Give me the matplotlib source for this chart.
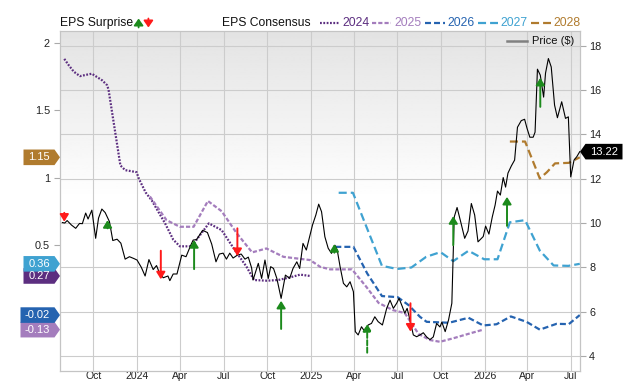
import numpy as np
import pandas as pd
import matplotlib
matplotlib.use("Agg")
import matplotlib.pyplot as plt
import matplotlib.dates as mdates
import matplotlib.transforms as mtransforms
from matplotlib.patches import Polygon, FancyArrowPatch
from matplotlib.lines import Line2D

plt.rcParams['font.family'] = ['Liberation Sans', 'DejaVu Sans']
plt.rcParams['lines.scale_dashes'] = False

# ---- EPS consensus by fiscal year ----
eps24_dates = ["2023-08-01", "2023-08-11", "2023-08-21", "2023-09-03", "2023-09-19", "2023-09-28",
               "2023-10-05", "2023-10-20", "2023-10-30", "2023-11-02", "2023-11-27", "2023-12-07",
               "2023-12-31", "2024-01-05", "2024-01-19", "2024-02-01", "2024-02-29", "2024-03-17",
               "2024-03-31", "2024-04-25", "2024-05-16", "2024-05-31", "2024-06-27", "2024-07-25",
               "2024-08-18", "2024-09-03", "2024-09-30", "2024-10-24", "2024-11-18", "2024-12-09",
               "2024-12-30"]
eps24_vals = [1.88, 1.83, 1.785, 1.752, 1.764, 1.77, 1.754, 1.72, 1.685, 1.653, 1.09, 1.055,
              1.04, 0.99, 0.89, 0.83, 0.66, 0.54, 0.49, 0.49, 0.59, 0.66, 0.61, 0.46,
              0.34, 0.24, 0.235, 0.24, 0.26, 0.28, 0.27]

eps25_dates = ["2024-01-28", "2024-03-03", "2024-03-31", "2024-04-29", "2024-05-29", "2024-06-27",
               "2024-07-28", "2024-08-30", "2024-09-29", "2024-11-04", "2024-12-02", "2024-12-30",
               "2025-01-20", "2025-02-10", "2025-03-28", "2025-04-27", "2025-05-23", "2025-06-22",
               "2025-07-17", "2025-08-15", "2025-09-08", "2025-09-29", "2025-10-26", "2025-12-01",
               "2025-12-29"]
eps25_vals = [0.86, 0.684, 0.635, 0.635, 0.826, 0.75, 0.59, 0.445, 0.474, 0.412, 0.40, 0.388,
              0.338, 0.319, 0.319, 0.19, 0.07, 0.017, -0.005, -0.16, -0.205, -0.218, -0.193,
              -0.156, -0.128]

eps26_dates = ["2025-02-21", "2025-03-31", "2025-04-29", "2025-05-30", "2025-07-02", "2025-07-25",
               "2025-08-18", "2025-09-01", "2025-10-18", "2025-11-28", "2025-12-29", "2026-01-26",
               "2026-02-25", "2026-03-30", "2026-04-27", "2026-06-01", "2026-06-27", "2026-07-20"]
eps26_vals = [0.486, 0.486, 0.289, 0.121, 0.113, 0.054, -0.033, -0.07, -0.077, -0.04, -0.097,
              -0.088, -0.03, -0.07, -0.128, -0.085, -0.087, -0.02]

eps27_dates = ["2025-02-28", "2025-03-30", "2025-05-30", "2025-07-01", "2025-07-31", "2025-08-31",
               "2025-09-30", "2025-10-27", "2025-11-28", "2025-12-31", "2026-01-28", "2026-02-23",
               "2026-03-27", "2026-04-27", "2026-05-26", "2026-06-26", "2026-07-20"]
eps27_vals = [0.887, 0.887, 0.345, 0.322, 0.333, 0.412, 0.447, 0.38, 0.457, 0.394, 0.394, 0.668,
              0.684, 0.458, 0.348, 0.345, 0.36]

eps28_dates = ["2026-02-23", "2026-03-27", "2026-04-27", "2026-05-12", "2026-05-29", "2026-06-27",
               "2026-07-20"]
eps28_vals = [1.267, 1.267, 0.993, 1.04, 1.105, 1.109, 1.15]

# ---- share price ----
price_dates = [
    "2023-07-28", "2023-08-02", "2023-08-07", "2023-08-16", "2023-08-25", "2023-09-02", "2023-09-08",
    "2023-09-15", "2023-09-20", "2023-09-28", "2023-10-06", "2023-10-12", "2023-10-19", "2023-10-26",
    "2023-11-04", "2023-11-11", "2023-11-20", "2023-11-28", "2023-12-07", "2023-12-16", "2023-12-25",
    "2024-01-01", "2024-01-10", "2024-01-18", "2024-01-26", "2024-02-04", "2024-02-11", "2024-02-16",
    "2024-02-25", "2024-03-06", "2024-03-10", "2024-03-17", "2024-03-25", "2024-04-04", "2024-04-13",
    "2024-04-23", "2024-04-28", "2024-05-05", "2024-05-18", "2024-05-28", "2024-06-06", "2024-06-15",
    "2024-06-22", "2024-06-30", "2024-07-07", "2024-07-14", "2024-07-21", "2024-07-30", "2024-08-07",
    "2024-08-15", "2024-08-22", "2024-08-29", "2024-09-01", "2024-09-12", "2024-09-19", "2024-09-26",
    "2024-10-03", "2024-10-08", "2024-10-14", "2024-10-21", "2024-10-30", "2024-11-08", "2024-11-17",
    "2024-11-24", "2024-12-02", "2024-12-08", "2024-12-15", "2024-12-22", "2024-12-29", "2025-01-04",
    "2025-01-11", "2025-01-17", "2025-01-23", "2025-01-30", "2025-02-06", "2025-02-13", "2025-02-20",
    "2025-02-25", "2025-03-03", "2025-03-10", "2025-03-17", "2025-03-24", "2025-03-31", "2025-04-04",
    "2025-04-10", "2025-04-17", "2025-04-24", "2025-05-01", "2025-05-08", "2025-05-15", "2025-05-22",
    "2025-05-31", "2025-06-09", "2025-06-16", "2025-06-23", "2025-06-30", "2025-07-05", "2025-07-12",
    "2025-07-17", "2025-07-22", "2025-07-28", "2025-08-04", "2025-08-11", "2025-08-18", "2025-08-25",
    "2025-09-01", "2025-09-08", "2025-09-15", "2025-09-22", "2025-09-29", "2025-10-03", "2025-10-10",
    "2025-10-17", "2025-10-24", "2025-10-29", "2025-11-04", "2025-11-12", "2025-11-20", "2025-11-27",
    "2025-12-04", "2025-12-11", "2025-12-18", "2025-12-29", "2026-01-03", "2026-01-10", "2026-01-17",
    "2026-01-23", "2026-01-28", "2026-02-03", "2026-02-09", "2026-02-14", "2026-02-19", "2026-02-26",
    "2026-03-05", "2026-03-11", "2026-03-19", "2026-03-26", "2026-03-31", "2026-04-06", "2026-04-13",
    "2026-04-17", "2026-04-22", "2026-04-28", "2026-05-05", "2026-05-09", "2026-05-15", "2026-05-21",
    "2026-05-28", "2026-06-03", "2026-06-12", "2026-06-20", "2026-06-26", "2026-07-01", "2026-07-08",
    "2026-07-14", "2026-07-20"]
price_vals = [
    10.02, 10.00, 10.11, 9.91, 9.76, 9.98, 9.97,
    10.45, 10.18, 10.58, 9.31, 10.22, 10.63, 10.47,
    10.06, 9.21, 9.27, 9.09, 8.37, 8.48, 8.40,
    8.33, 8.00, 7.61, 8.35, 7.90, 8.08, 7.81,
    7.53, 7.61, 7.40, 7.70, 7.70, 8.55, 8.48,
    9.00, 9.23, 9.25, 9.67, 9.57, 9.05, 8.25,
    8.60, 8.64, 8.37, 8.64, 8.42, 8.55, 8.60,
    8.37, 8.46, 7.97, 7.43, 8.18, 7.50, 8.33,
    7.50, 8.03, 7.95, 7.50, 6.60, 7.65, 7.50,
    7.95, 8.25, 7.95, 9.08, 8.78, 9.38, 9.91,
    10.36, 10.85, 10.51, 9.38, 8.86, 8.63, 9.00,
    8.78, 8.03, 7.28, 7.12, 7.35, 6.90, 5.10,
    4.95, 5.32, 5.10, 5.40, 5.47, 5.77, 5.55,
    5.40, 6.15, 6.52, 6.15, 6.38, 6.60, 6.22,
    5.93, 6.15, 5.62, 4.95, 4.87, 4.95, 5.05,
    4.86, 4.74, 4.86, 5.47, 5.31, 5.53, 5.10,
    5.62, 6.38, 10.27, 10.70, 10.02, 9.31, 9.64,
    10.88, 10.36, 9.15, 9.39, 9.86, 9.50, 10.27,
    10.81, 11.44, 11.26, 12.05, 11.62, 12.25, 12.57,
    12.84, 14.32, 14.62, 14.68, 14.28, 13.87, 13.87,
    14.10, 16.94, 16.67, 15.68, 16.76, 17.42, 17.04,
    15.32, 14.75, 15.47, 14.72, 14.79, 12.08, 12.84,
    13.00, 13.22]

# ---- EPS surprise markers (drawn on the price scale) ----
surprise_dates = ["2023-08-01", "2023-10-31", "2024-02-20", "2024-04-30", "2024-07-30", "2024-10-30",
                  "2025-02-19", "2025-04-29", "2025-07-29", "2025-10-27", "2026-02-17", "2026-04-28"]
surprise_tail = [10.46, 9.76, 8.75, 7.92, 9.76, 5.22, 8.66, 4.15, 6.38, 9.00, 9.87, 15.24]
surprise_tip = [10.06, 10.13, 7.46, 9.23, 8.51, 6.49, 9.05, 5.44, 5.10, 10.31, 11.18, 16.55]
surprise_dashed = [False, False, False, False, False, False, False, True, False, False, False, False]

years = ["2024", "2025", "2026", "2027", "2028"]
colors = ["#5c2e80", "#a47dbd", "#2563b0", "#3fa2d1", "#b07b2e"]
styles = [(0, (1.3, 1.1)), (0, (3.0, 1.5)), (0, (4.3, 2.2)), (0, (5.8, 2.9)), (0, (5.8, 2.9))]
series = [(eps24_dates, eps24_vals), (eps25_dates, eps25_vals), (eps26_dates, eps26_vals),
          (eps27_dates, eps27_vals), (eps28_dates, eps28_vals)]

W, H = 640, 382
fig = plt.figure(figsize=(W / 100, H / 100), dpi=100)
ax = fig.add_axes([60 / W, (H - 370.5) / H, 520 / W, (370.5 - 30.7) / H])
ax2 = ax.twinx()

ax.set_xlim(pd.Timestamp("2023-07-23"), pd.Timestamp("2026-07-20 12:00"))
ax.set_ylim(-0.431, 2.089)
ax2.set_ylim(3.346, 18.676)

# background gradient
frac = np.linspace(0, 1, 200)  # 0 = bottom, 1 = top
grad = (1 - 0.11 * np.clip((frac - 0.5) / 0.5, 0, 1))[:, None]
ax.imshow(grad, extent=[0, 1, 0, 1], transform=ax.transAxes, cmap="gray", vmin=0, vmax=1,
          aspect="auto", origin="lower", zorder=0)

gridc = "#cccccc"
ax.set_axisbelow(True)
ax.xaxis.set_major_locator(mdates.MonthLocator(bymonth=[1, 4, 7, 10]))
ax.xaxis.set_major_formatter(plt.FuncFormatter(
    lambda v, p: mdates.num2date(v).strftime("%Y" if mdates.num2date(v).month == 1 else "%b")))
ax.grid(axis="x", color=gridc, lw=0.8)
right_ticks = np.arange(4, 19, 2)
grid_tf = mtransforms.blended_transform_factory(ax.transAxes, ax2.transData)
for v in right_ticks:
    ax.plot([0, 1], [v, v], transform=grid_tf, color=gridc, lw=0.8, zorder=0.6)

# consensus lines
for (d, v), c, ls in zip(series, colors, styles):
    ax.plot(pd.to_datetime(d), v, color=c, lw=1.6, linestyle=ls, zorder=3)

# price line
ax2.plot(pd.to_datetime(price_dates), price_vals, color="black", lw=0.8, zorder=3)

# surprise arrows
for d, t0, t1, dash in zip(pd.to_datetime(surprise_dates), surprise_tail, surprise_tip, surprise_dashed):
    c = "#1c8a1c" if t1 > t0 else "#ff1a1a"
    ax2.annotate("", xy=(d, t1), xytext=(d, t0),
                 arrowprops=dict(arrowstyle="-|>,head_length=0.42,head_width=0.26", color=c,
                                 lw=1.4, shrinkA=0, shrinkB=0, mutation_scale=10,
                                 linestyle="--" if dash else "-"), zorder=5)

# ticks and spines
ax.set_yticks([0.5, 1, 1.5, 2])
ax.set_yticklabels(["0.5", "1", "1.5", "2"])
ax2.set_yticks(right_ticks)
ax.tick_params(axis="x", length=0, pad=0.5, labelsize=7.5, colors="#222222")
ax.tick_params(axis="y", length=4.3, pad=2.9, labelsize=7.8, color="#aaaaaa", labelcolor="#222222")
ax2.tick_params(axis="y", length=4.3, pad=2.2, labelsize=7.8, color="#aaaaaa", labelcolor="#222222")
for a in (ax, ax2):
    for s in a.spines.values():
        s.set_color("#c4c4c4")
        s.set_linewidth(0.8)

# value badges on the left (last consensus values)
ytf = ax.get_yaxis_transform()
hh = 7.8 / 134.9
for (d, v), c in zip(series, colors):
    val = v[-1]
    txt = f"{val:.2f}"
    w = (34 if txt.startswith("-") else 31) / 520
    tipw = 5.5 / 520
    poly = Polygon([(-tipw - w, val - hh), (-tipw, val - hh), (0, val), (-tipw, val + hh),
                    (-tipw - w, val + hh)], closed=True, transform=ytf, facecolor=c,
                   edgecolor="none", clip_on=False, zorder=10)
    ax.add_patch(poly)
    ax.text(-tipw - w / 2, val, txt, transform=ytf, color="white", fontsize=8,
            ha="center", va="center", zorder=11, clip_on=False)

# last price badge on the right
ytf2 = ax2.get_yaxis_transform()
last = price_vals[-1]
hh2 = 7.8 / 22.18
w2 = 37 / 520
tipw2 = 5.5 / 520
ax2.add_patch(Polygon([(1, last), (1 + tipw2, last - hh2), (1 + tipw2 + w2, last - hh2),
                       (1 + tipw2 + w2, last + hh2), (1 + tipw2, last + hh2)], closed=True,
                      transform=ytf2, facecolor="black", edgecolor="none", clip_on=False, zorder=10))
ax2.text(1 + tipw2 + w2 / 2, last, f"{last:.2f}", transform=ytf2, color="white", fontsize=8,
         ha="center", va="center", zorder=11, clip_on=False)

# price legend inside the plot
fig.add_artist(Line2D([506.7 / W, 526.7 / W], [1 - 41 / H, 1 - 41 / H], transform=fig.transFigure,
                      color="#808080", lw=1.8))
fig.text(532 / W, 1 - 41 / H, "Price ($)", fontsize=8, va="center", ha="left", color="#111111")

# top legend
yc = 1 - 23 / H
fig.text(60 / W, yc, "EPS Surprise", fontsize=8.7, va="center", ha="left", color="#111111")
for xp, up, c in [(138.6, True, "#1c8a1c"), (148.4, False, "#ff1a1a")]:
    y0, y1 = (H - 27.5, H - 18.5) if up else (H - 18.5, H - 27.5)
    fig.add_artist(FancyArrowPatch(
        (xp, y0), (xp, y1), transform=mtransforms.IdentityTransform(),
        arrowstyle="-|>,head_length=0.4,head_width=0.28", mutation_scale=10, color=c, lw=1.3,
        shrinkA=0, shrinkB=0))
fig.text(222 / W, yc, "EPS Consensus", fontsize=8.7, va="center", ha="left", color="#111111")
leg_x = [320, 371.7, 425, 478, 531]
for x0, yr, c, ls in zip(leg_x, years, colors, styles):
    fig.add_artist(Line2D([x0 / W, (x0 + 19.5) / W], [yc, yc], transform=fig.transFigure,
                          color=c, lw=1.6, linestyle=ls))
    fig.text((x0 + 22.5) / W, yc, yr, fontsize=8.7, va="center", ha="left", color=c)

fig.savefig("out.png", dpi=100)
